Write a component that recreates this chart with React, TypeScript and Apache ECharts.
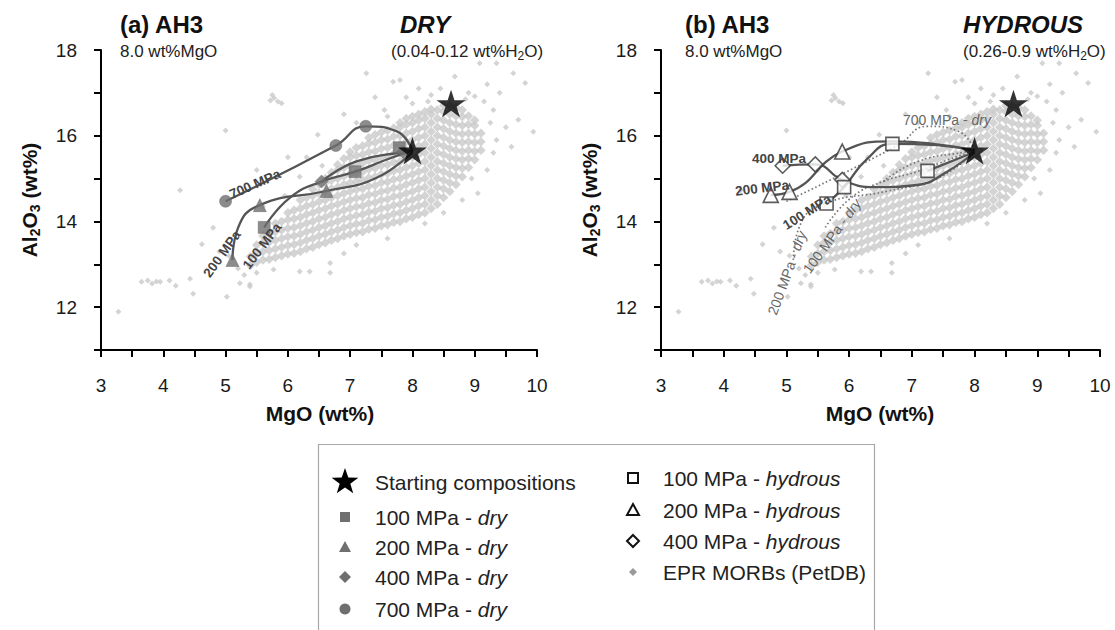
import React, { useEffect, useRef } from 'react';
import * as echarts from 'echarts';

const FONT = '"Liberation Sans", Arial, Helvetica, sans-serif';

// ---------- axes ----------
const xMin = 3, xMax = 10, xStep = 0.5;
const yMin = 11, yMax = 18, yStep = 1;

// ---------- starting compositions ----------
const starts: number[][] = [[8.0, 15.65], [8.62, 16.75]];

// ---------- DRY experiments (markers and curve knots) ----------
const dry100Pts = [[5.62, 13.86], [7.08, 15.16], [7.79, 15.72]];
const dry100Curve = [[5.62, 13.86], [6.03, 14.55], [6.54, 14.93], [7.08, 15.16], [7.6, 15.45], [8.0, 15.65]];
const dry200Pts = [[5.11, 13.1], [5.55, 14.38], [6.62, 14.71]];
const dry200Curve = [[5.11, 13.1], [5.2, 13.85], [5.55, 14.38], [6.62, 14.71], [7.4, 15.0], [8.0, 15.62]];
const dry400Pts = [[6.54, 14.93], [7.85, 15.62]];
const dry400Curve = [[6.54, 14.93], [7.1, 15.4], [7.85, 15.62], [8.0, 15.65]];
const dry700Pts = [[5.0, 14.47], [6.77, 15.77], [7.25, 16.22]];
const dry700Curve = [[5.0, 14.47], [6.77, 15.77], [7.25, 16.22], [7.75, 16.1], [8.0, 15.65]];

// ---------- HYDROUS experiments ----------
const hyd100Pts = [[5.64, 14.42], [5.92, 14.8], [6.69, 15.81], [7.25, 15.18]];
const hyd100Curve = [[5.64, 14.42], [5.92, 14.8], [6.28, 15.45], [6.69, 15.81], [7.4, 15.78], [8.0, 15.65]];
const hyd100bCurve = [[7.25, 15.18], [8.0, 15.62]];
const hyd200Pts = [[4.75, 14.62], [5.05, 14.69], [5.89, 15.63]];
const hyd200Curve = [[4.75, 14.62], [5.05, 14.69], [5.89, 15.63], [6.69, 15.87], [7.5, 15.78], [8.0, 15.65]];
const hyd400Pts = [[4.94, 15.3], [5.46, 15.33], [5.89, 14.97]];
const hyd400Curve = [[4.94, 15.3], [5.46, 15.33], [5.89, 14.97], [6.4, 14.8], [7.08, 14.85], [7.56, 15.16], [8.0, 15.62]];

// ---------- EPR MORBs (PetDB) ----------
const morbColumns: [number, number[]][] = [
  [5.4, [12.98, 13.18]],
  [5.5, [13.05, 13.25, 13.45]],
  [5.6, [13.1, 13.3, 13.5, 13.66]],
  [5.7, [13.12, 13.32, 13.52, 13.72]],
  [5.8, [13.16, 13.36, 13.56, 13.76, 13.95]],
  [5.9, [13.2, 13.4, 13.6, 13.8, 14.0]],
  [6.0, [13.24, 13.44, 13.64, 13.84, 14.04, 14.2]],
  [6.1, [13.26, 13.46, 13.66, 13.86, 14.06, 14.26]],
  [6.2, [13.3, 13.5, 13.7, 13.9, 14.1, 14.3, 14.5]],
  [6.3, [13.36, 13.56, 13.76, 13.96, 14.16, 14.36, 14.56]],
  [6.4, [13.4, 13.6, 13.8, 14.0, 14.2, 14.4, 14.6, 14.75]],
  [6.5, [13.46, 13.66, 13.86, 14.06, 14.26, 14.46, 14.66, 14.86]],
  [6.6, [13.5, 13.7, 13.9, 14.1, 14.3, 14.5, 14.7, 14.9, 15.0]],
  [6.7, [13.56, 13.76, 13.96, 14.16, 14.36, 14.56, 14.76, 14.96, 15.14]],
  [6.8, [13.6, 13.8, 14.0, 14.2, 14.4, 14.6, 14.8, 15.0, 15.2, 15.32]],
  [6.9, [13.66, 13.86, 14.06, 14.26, 14.46, 14.66, 14.86, 15.06, 15.26, 15.46]],
  [7.0, [13.7, 13.9, 14.1, 14.3, 14.5, 14.7, 14.9, 15.1, 15.3, 15.5, 15.62]],
  [7.1, [13.74, 13.94, 14.14, 14.34, 14.54, 14.74, 14.94, 15.14, 15.34, 15.54, 15.72]],
  [7.2, [13.76, 13.96, 14.16, 14.36, 14.56, 14.76, 14.96, 15.16, 15.36, 15.56, 15.76]],
  [7.3, [13.82, 14.02, 14.22, 14.42, 14.62, 14.82, 15.02, 15.22, 15.42, 15.62, 15.82, 15.95]],
  [7.4, [13.84, 14.04, 14.24, 14.44, 14.64, 14.84, 15.04, 15.24, 15.44, 15.64, 15.84, 16.02]],
  [7.5, [13.9, 14.1, 14.3, 14.5, 14.7, 14.9, 15.1, 15.3, 15.5, 15.7, 15.9, 16.08]],
  [7.6, [13.92, 14.12, 14.32, 14.52, 14.72, 14.92, 15.12, 15.32, 15.52, 15.72, 15.92, 16.12]],
  [7.7, [13.98, 14.18, 14.38, 14.58, 14.78, 14.98, 15.18, 15.38, 15.58, 15.78, 15.98, 16.18]],
  [7.8, [14.0, 14.2, 14.4, 14.6, 14.8, 15.0, 15.2, 15.4, 15.6, 15.8, 16.0, 16.2, 16.3]],
  [7.9, [14.06, 14.26, 14.46, 14.66, 14.86, 15.06, 15.26, 15.46, 15.66, 15.86, 16.06, 16.26, 16.4]],
  [8.0, [14.1, 14.3, 14.5, 14.7, 14.9, 15.1, 15.3, 15.5, 15.7, 15.9, 16.1, 16.3, 16.45]],
  [8.1, [14.16, 14.36, 14.56, 14.76, 14.96, 15.16, 15.36, 15.56, 15.76, 15.96, 16.16, 16.36, 16.5]],
  [8.2, [14.2, 14.4, 14.6, 14.8, 15.0, 15.2, 15.4, 15.6, 15.8, 16.0, 16.2, 16.4, 16.56]],
  [8.3, [14.3, 14.5, 14.7, 14.9, 15.1, 15.3, 15.5, 15.7, 15.9, 16.1, 16.3, 16.5, 16.62]],
  [8.4, [14.4, 14.6, 14.8, 15.0, 15.2, 15.4, 15.6, 15.8, 16.0, 16.2, 16.4, 16.6]],
  [8.5, [14.56, 14.76, 14.96, 15.16, 15.36, 15.56, 15.76, 15.96, 16.16, 16.36, 16.56, 16.7]],
  [8.6, [14.7, 14.9, 15.1, 15.3, 15.5, 15.7, 15.9, 16.1, 16.3, 16.5, 16.7]],
  [8.7, [14.86, 15.06, 15.26, 15.46, 15.66, 15.86, 16.06, 16.26, 16.46, 16.66]],
  [8.8, [15.04, 15.24, 15.44, 15.64, 15.84, 16.04, 16.24, 16.44, 16.6]],
  [8.9, [15.26, 15.46, 15.66, 15.86, 16.06, 16.26, 16.46]],
  [9.0, [15.44, 15.64, 15.84, 16.04, 16.24, 16.36]],
  [9.1, [15.66, 15.86, 16.06]],
];
const morbSparse: number[][] = [
  [3.28, 11.89], [3.65, 12.59], [3.75, 12.62], [3.82, 12.55], [3.89, 12.6], [3.95, 12.59], [4.1, 12.62],
  [4.2, 12.5], [4.43, 12.66], [4.48, 12.31], [5.02, 12.24], [5.23, 12.56], [5.39, 12.53], [4.62, 13.47],
  [4.8, 13.85], [4.27, 14.73], [4.9, 13.3], [5.05, 13.2], [5.2, 12.9], [5.3, 12.75], [5.5, 12.8],
  [5.77, 12.88], [6.19, 12.83], [6.35, 12.83], [6.68, 12.8], [6.68, 13.03], [5.39, 12.48], [5.0, 16.12],
  [5.72, 16.82], [5.78, 16.88], [5.84, 16.8], [5.9, 16.76], [5.75, 16.95], [6.48, 16.02], [6.19, 15.04],
  [5.95, 14.6], [5.6, 14.35], [6.3, 15.5], [6.55, 15.3], [6.9, 16.5], [7.26, 17.46], [7.4, 16.9],
  [7.55, 16.6], [7.69, 17.26], [7.8, 17.3], [7.9, 16.9], [8.1, 17.1], [8.3, 16.95], [8.45, 17.1],
  [8.68, 17.38], [8.9, 17.0], [9.08, 17.69], [9.2, 17.2], [9.35, 17.69], [9.4, 17.0], [9.62, 17.46],
  [9.81, 17.23], [9.7, 16.37], [9.94, 16.09], [9.59, 15.74], [9.3, 15.6], [9.2, 15.2], [9.05, 14.66],
  [8.8, 14.5], [8.2, 13.95], [8.5, 14.2], [7.6, 13.6], [7.1, 13.45], [6.9, 13.25], [8.95, 15.0],
  [9.5, 16.2], [9.3, 16.6], [9.15, 16.8], [9.0, 16.92], [7.1, 16.3], [7.6, 16.45], [8.0, 16.75],
  [8.25, 16.8], [8.85, 16.85], [9.25, 16.3], [9.35, 15.9], [6.0, 15.5], [5.5, 15.2],
];
const morbDense = morbColumns.flatMap(([x, ys]) => ys.map((y) => [x, y]));

const STAR = 'path://M50,0 L61.2,34.5 L97.6,34.5 L68.2,55.9 L79.4,90.5 L50,69.1 L20.6,90.5 L31.8,55.9 L2.4,34.5 L38.8,34.5 Z';
const LINE_C = '#555555';
const MARK_C = '#6f6f6f';
const DOT_C = '#777777';

function axisPair(idx: number) {
  const x = {
    type: 'value', gridIndex: idx, min: xMin, max: xMax, interval: xStep,
    axisLine: { show: true, onZero: false, lineStyle: { color: '#000', width: 2 } },
    axisTick: { show: true, inside: false, length: 7, lineStyle: { color: '#000', width: 2 } },
    axisLabel: {
      fontSize: 19, color: '#1a1a1a', fontFamily: FONT, margin: 26,
      formatter: (v: number) => (Number.isInteger(v) ? String(v) : ''),
    },
    splitLine: { show: false },
  };
  const y = {
    type: 'value', gridIndex: idx, min: yMin, max: yMax, interval: yStep,
    axisLine: { show: true, onZero: false, lineStyle: { color: '#000', width: 2 } },
    axisTick: { show: true, inside: false, length: 7, lineStyle: { color: '#000', width: 2 } },
    axisLabel: {
      fontSize: 19, color: '#1a1a1a', fontFamily: FONT, margin: 24,
      formatter: (v: number) => (v % 2 === 0 ? String(v) : ''),
    },
    splitLine: { show: false },
  };
  return { x, y };
}

function curve(data: number[][], idx: number, dotted = false) {
  return {
    type: 'line', xAxisIndex: idx, yAxisIndex: idx, data, smooth: 0.5,
    showSymbol: false, symbol: 'none', silent: true, z: dotted ? 3 : 4,
    lineStyle: dotted ? { color: DOT_C, width: 1.7, type: [1.6, 2.4] } : { color: LINE_C, width: 2.3 },
  };
}

function marks(data: number[][], idx: number, symbol: string, size: number, hollow = false) {
  return {
    type: 'scatter', xAxisIndex: idx, yAxisIndex: idx, data, symbol, symbolSize: size, silent: true, z: 5,
    itemStyle: hollow
      ? { color: '#ffffff', borderColor: '#333', borderWidth: 1.6 }
      : { color: MARK_C, borderColor: '#5a5a5a', borderWidth: 0.5 },
  };
}

function starPoints(cx: number, cy: number, R: number) {
  const pts: number[][] = [];
  for (let i = 0; i < 10; i++) {
    const r = i % 2 === 0 ? R : R * 0.4;
    const a = -Math.PI / 2 + (i * Math.PI) / 5;
    pts.push([cx + r * Math.cos(a), cy + r * Math.sin(a)]);
  }
  return pts;
}

function txt(x: number, y: number, text: string, opts: any = {}) {
  return {
    type: 'text', x, y, rotation: opts.rotation || 0, z: 50,
    style: {
      text, fill: opts.fill || '#1a1a1a', align: opts.align || 'left', verticalAlign: 'middle',
      font: opts.font || `16px ${FONT}`, rich: opts.rich,
    },
  };
}

const richSub = (size: number, weight: string, style = 'normal', color = '#1a1a1a') => ({
  n: { fontSize: size, fontWeight: weight, fontStyle: style, fontFamily: FONT, fill: color },
  s: { fontSize: Math.round(size * 0.68), fontWeight: weight, fontFamily: FONT, fill: color, padding: [Math.round(size * 0.55), 0, 0, 0] },
  i: { fontSize: size, fontWeight: weight, fontStyle: 'italic', fontFamily: FONT, fill: color },
});

export default function App() {
  const ref = useRef<HTMLDivElement>(null);
  useEffect(() => {
    const chart = echarts.init(ref.current!, null, { renderer: 'svg' });
    const a = axisPair(0);
    const b = axisPair(1);

    const LEG_FS = 21;
    const legRich = richSub(LEG_FS, 'normal', 'normal', '#222');
    const lx = 345, ltx = 375, rx = 633, rtx = 663;
    const labelBold = `bold 13.5px ${FONT}`;
    const dryRich = {
      n: { fontSize: 14, fontFamily: FONT, fill: '#666' },
      i: { fontSize: 14, fontFamily: FONT, fontStyle: 'italic', fill: '#666' },
    };

    const graphic: any[] = [
      // titles panel a
      txt(120, 24, '(a) AH3', { font: `bold 24px ${FONT}`, fill: '#111' }),
      txt(120, 51, '8.0 wt%MgO', { font: `17px ${FONT}`, fill: '#222' }),
      txt(400, 24, 'DRY', { font: `italic bold 24px ${FONT}`, fill: '#111' }),
      txt(391, 51, '{n|(0.04-0.12 wt%H}{s|2}{n|O)}', { rich: richSub(17, 'normal', 'normal', '#222') }),
      // titles panel b
      txt(685, 24, '(b) AH3', { font: `bold 24px ${FONT}`, fill: '#111' }),
      txt(685, 51, '8.0 wt%MgO', { font: `17px ${FONT}`, fill: '#222' }),
      txt(963, 24, 'HYDROUS', { font: `italic bold 24px ${FONT}`, fill: '#111' }),
      txt(963, 51, '{n|(0.26-0.9 wt%H}{s|2}{n|O)}', { rich: richSub(17, 'normal', 'normal', '#222') }),
      // axis names
      txt(320, 413, 'MgO (wt%)', { font: `bold 21px ${FONT}`, align: 'center', fill: '#111' }),
      txt(880, 413, 'MgO (wt%)', { font: `bold 21px ${FONT}`, align: 'center', fill: '#111' }),
      txt(29, 200, '{n|Al}{s|2}{n|O}{s|3}{n| (wt%)}', { rotation: Math.PI / 2, align: 'center', rich: richSub(21, 'bold', 'normal', '#111') }),
      txt(589, 200, '{n|Al}{s|2}{n|O}{s|3}{n| (wt%)}', { rotation: Math.PI / 2, align: 'center', rich: richSub(21, 'bold', 'normal', '#111') }),
      // curve labels panel a
      txt(255, 184, '700 MPa', { font: labelBold, fill: '#444', align: 'center', rotation: 0.41 }),
      txt(222, 254, '200 MPa', { font: labelBold, fill: '#444', align: 'center', rotation: 0.95 }),
      txt(262, 246, '100 MPa', { font: labelBold, fill: '#444', align: 'center', rotation: 0.92 }),
      // curve labels panel b
      txt(779, 158, '400 MPa', { font: labelBold, fill: '#444', align: 'center' }),
      txt(762, 188, '200 MPa', { font: labelBold, fill: '#444', align: 'center', rotation: 0.12 }),
      txt(807, 212, '100 MPa', { font: labelBold, fill: '#444', align: 'center', rotation: 0.56 }),
      txt(947, 120, '{n|700 MPa - }{i|dry}', { align: 'center', rich: dryRich }),
      txt(787, 273, '{n|200 MPa - }{i|dry}', { align: 'center', rotation: 1.22, rich: dryRich }),
      txt(832, 236, '{n|100 MPa - }{i|dry}', { align: 'center', rotation: 0.94, rich: dryRich }),
      // legend box
      { type: 'rect', z: 40, shape: { x: 318.5, y: 444.5, width: 556, height: 200 }, style: { fill: '#fff', stroke: '#a8a8a8', lineWidth: 1.2 } },
      { type: 'polygon', z: 50, shape: { points: starPoints(lx, 482, 14) }, style: { fill: '#000' } },
      txt(ltx, 482, 'Starting compositions', { font: `${LEG_FS}px ${FONT}`, fill: '#222' }),
      { type: 'rect', z: 50, shape: { x: lx - 5, y: 517 - 5, width: 10, height: 10 }, style: { fill: MARK_C } },
      txt(ltx, 517, '{n|100 MPa - }{i|dry}', { rich: legRich }),
      { type: 'polygon', z: 50, shape: { points: [[lx, 541], [lx + 6, 552], [lx - 6, 552]] }, style: { fill: MARK_C } },
      txt(ltx, 547, '{n|200 MPa - }{i|dry}', { rich: legRich }),
      { type: 'polygon', z: 50, shape: { points: [[lx, 571], [lx + 6, 577], [lx, 583], [lx - 6, 577]] }, style: { fill: MARK_C } },
      txt(ltx, 577, '{n|400 MPa - }{i|dry}', { rich: legRich }),
      { type: 'circle', z: 50, shape: { cx: lx, cy: 609, r: 5.5 }, style: { fill: MARK_C } },
      txt(ltx, 609, '{n|700 MPa - }{i|dry}', { rich: legRich }),
      { type: 'rect', z: 50, shape: { x: rx - 5, y: 478 - 5, width: 10, height: 10 }, style: { fill: '#fff', stroke: '#111', lineWidth: 2 } },
      txt(rtx, 478, '{n|100 MPa - }{i|hydrous}', { rich: legRich }),
      { type: 'polygon', z: 50, shape: { points: [[rx, 504], [rx + 6, 515], [rx - 6, 515]] }, style: { fill: '#fff', stroke: '#111', lineWidth: 2 } },
      txt(rtx, 510, '{n|200 MPa - }{i|hydrous}', { rich: legRich }),
      { type: 'polygon', z: 50, shape: { points: [[rx, 535], [rx + 6, 541], [rx, 547], [rx - 6, 541]] }, style: { fill: '#fff', stroke: '#111', lineWidth: 2 } },
      txt(rtx, 541, '{n|400 MPa - }{i|hydrous}', { rich: legRich }),
      { type: 'polygon', z: 50, shape: { points: [[rx, 568], [rx + 4, 572], [rx, 576], [rx - 4, 572]] }, style: { fill: '#9a9a9a' } },
      txt(rtx, 572, 'EPR MORBs (PetDB)', { font: `${LEG_FS}px ${FONT}`, fill: '#222' }),
    ];

    const morbStyle = { color: '#c9c9c9' };
    const morb = (data: number[][], idx: number, size: number) => ({
      type: 'scatter', xAxisIndex: idx, yAxisIndex: idx, data, symbol: 'diamond', symbolSize: size,
      itemStyle: morbStyle, silent: true, z: 1,
    });
    const series: any[] = [
      morb(morbDense, 0, 9.5), morb(morbSparse, 0, 6),
      morb(morbDense, 1, 9.5), morb(morbSparse, 1, 6),
      // panel a dry curves
      curve(dry700Curve, 0), curve(dry200Curve, 0), curve(dry100Curve, 0), curve(dry400Curve, 0),
      marks(dry700Pts, 0, 'circle', 12), marks(dry200Pts, 0, 'triangle', 13),
      marks(dry400Pts, 0, 'diamond', 13), marks(dry100Pts, 0, 'rect', 12),
      // panel b dry curves (dotted)
      curve(dry700Curve, 1, true), curve(dry200Curve, 1, true), curve(dry100Curve, 1, true), curve(dry400Curve, 1, true),
      // panel b hydrous
      curve(hyd100Curve, 1), curve(hyd200Curve, 1), curve(hyd400Curve, 1), curve(hyd100bCurve, 1),
      marks(hyd400Pts, 1, 'diamond', 15, true), marks(hyd200Pts, 1, 'triangle', 15, true), marks(hyd100Pts, 1, 'rect', 13, true),
      // stars
      { type: 'scatter', xAxisIndex: 0, yAxisIndex: 0, data: starts, symbol: STAR, symbolKeepAspect: true, symbolSize: 29, itemStyle: { color: '#000' }, silent: true, z: 6 },
      { type: 'scatter', xAxisIndex: 1, yAxisIndex: 1, data: starts, symbol: STAR, symbolKeepAspect: true, symbolSize: 29, itemStyle: { color: '#000' }, silent: true, z: 6 },
    ];

    chart.setOption({
      animation: false,
      backgroundColor: '#ffffff',
      grid: [
        { left: 101, right: 1115 - 537, top: 50, bottom: 630 - 350, containLabel: false },
        { left: 661, right: 1115 - 1100, top: 50, bottom: 630 - 350, containLabel: false },
      ],
      xAxis: [a.x, b.x],
      yAxis: [a.y, b.y],
      series,
      graphic,
    });
    return () => chart.dispose();
  }, []);
  return <div ref={ref} style={{ position: 'absolute', left: 0, top: 0, width: 1115, height: 630 }} />;
}
